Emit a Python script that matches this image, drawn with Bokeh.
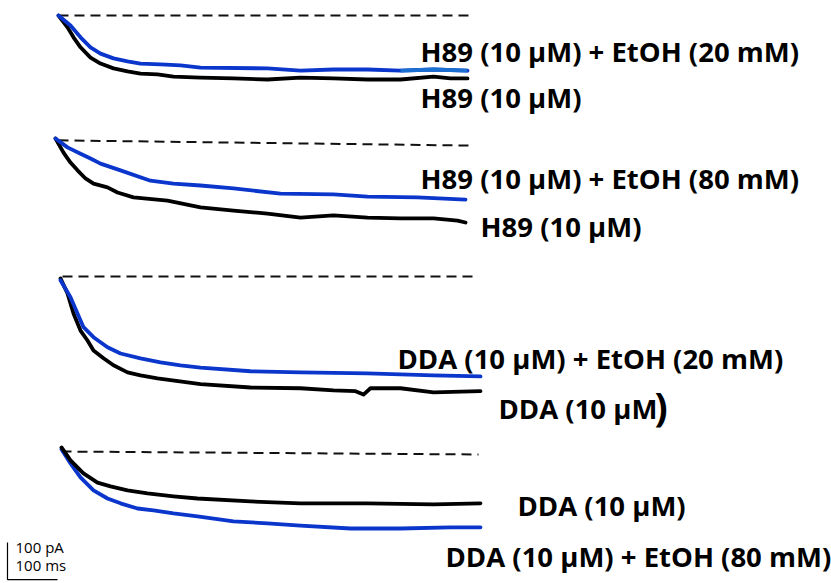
import numpy as np
from bokeh.plotting import figure
from bokeh.models import Range1d
from bokeh.embed import file_html
from bokeh.resources import INLINE
from bokeh.core.properties import value

# ---- Whole-cell currents: time from onset (ms), current (pA) ----
# Panel A: H89 10 uM vs H89 10 uM + EtOH 20 mM
h89_a_t = [0, 18, 30, 44, 64, 84, 110, 138, 164, 198, 230, 284, 350, 418, 484, 550, 618, 684, 750, 784, 818]
h89_a_i = [0, -32, -59, -86, -114, -130, -143, -151, -157, -159, -165, -168, -170, -173, -168, -170, -173, -173, -165, -170, -170]
h89_etoh20_t = [0, 24, 44, 64, 84, 110, 138, 164, 204, 244, 284, 418, 484, 550, 618, 684, 750, 818]
h89_etoh20_i = [0, -27, -59, -86, -103, -116, -124, -130, -132, -135, -141, -143, -149, -146, -146, -149, -146, -149]

# Panel B: H89 10 uM vs H89 10 uM + EtOH 80 mM
h89_b_t = [0, 6, 16, 30, 44, 60, 76, 104, 124, 156, 224, 290, 356, 424, 490, 556, 624, 690, 756, 804, 820]
h89_b_i = [0, -14, -38, -65, -86, -108, -122, -132, -146, -159, -168, -186, -195, -203, -214, -208, -214, -216, -216, -222, -227]
h89_etoh80_t = [0, 24, 50, 70, 90, 130, 190, 236, 290, 356, 450, 556, 624, 724, 820]
h89_etoh80_i = [0, -24, -41, -54, -68, -86, -114, -122, -127, -135, -149, -151, -157, -159, -165]

# Panel C: DDA 10 uM vs DDA 10 uM + EtOH 20 mM
dda_c_t = [0, 14, 26, 40, 54, 66, 86, 106, 134, 160, 194, 280, 380, 480, 546, 590, 606, 620, 680, 746, 840]
dda_c_i = [0, -41, -95, -141, -168, -195, -216, -235, -254, -262, -270, -286, -295, -297, -303, -305, -314, -297, -297, -308, -305]
dda_etoh20_t = [0, 20, 34, 46, 66, 94, 120, 160, 200, 240, 280, 380, 480, 614, 746, 840]
dda_etoh20_i = [-5, -51, -95, -132, -159, -186, -203, -216, -227, -235, -241, -251, -254, -257, -262, -265]

# Panel D: DDA 10 uM vs DDA 10 uM + EtOH 80 mM
dda_d_t = [0, 18, 44, 72, 98, 132, 172, 224, 272, 378, 478, 612, 744, 838]
dda_d_i = [0, -35, -70, -95, -105, -116, -124, -132, -138, -146, -151, -151, -154, -151]
dda_etoh80_t = [0, 18, 38, 64, 92, 118, 152, 184, 224, 272, 344, 412, 478, 578, 678, 778, 838]
dda_etoh80_i = [-5, -43, -81, -116, -138, -151, -165, -170, -178, -186, -200, -205, -211, -219, -219, -216, -216]

# Holding-current reference (start/end of the dashed zero line), per panel
zero_t = [[0, 828], [6, 826], [4, 826], [0, 834]]
zero_i = [[0, 0], [-5, -19], [5, 5], [-11, -19]]

labels = [
    "H89 (10 \u03bcM) + EtOH (20 mM)",
    "H89 (10 \u03bcM)",
    "H89 (10 \u03bcM) + EtOH (80 mM)",
    "H89 (10 \u03bcM)",
    "DDA (10 \u03bcM) + EtOH (20 mM)",
    "DDA (10 \u03bcM",
    "DDA (10 \u03bcM)",
    "DDA (10 \u03bcM) + EtOH (80 mM)",
]

# ---- layout (ms, pA) ----
panel_origin = [(116, -40.5), (110, -373), (120, -751), (122, -1208)]
label_pos = [(840, -138), (840, -261), (840, -482), (960, -611),
             (794, -968), (996, -1103), (1034, -1365), (890, -1503)]

BLUE = "#0a36cc"
BLUE_LIGHT = "#1a6fd0"
BLACK = "#000000"

p = figure(width=831, height=583, output_backend="svg", toolbar_location=None,
           x_range=Range1d(0, 1662), y_range=Range1d(-1575.7, 0),
           min_border=0, outline_line_color=None)
p.axis.visible = False
p.grid.visible = False
p.background_fill_color = "white"
p.border_fill_color = "white"

panels = [
    ((h89_a_t, h89_a_i), (h89_etoh20_t, h89_etoh20_i)),
    ((h89_b_t, h89_b_i), (h89_etoh80_t, h89_etoh80_i)),
    ((dda_c_t, dda_c_i), (dda_etoh20_t, dda_etoh20_i)),
    ((dda_d_t, dda_d_i), (dda_etoh80_t, dda_etoh80_i)),
]

for k, ((ct, ci), (et, ei)) in enumerate(panels):
    ox, oy = panel_origin[k]
    p.line([ox + t for t in zero_t[k]], [oy + v for v in zero_i[k]],
           line_color="#111111", line_width=2, line_dash="10 6")
    ct_a, ci_a = np.asarray(ct) + ox, np.asarray(ci) + oy
    et_a, ei_a = np.asarray(et) + ox, np.asarray(ei) + oy
    order = [(ct_a, ci_a, BLACK), (et_a, ei_a, BLUE)] if k < 3 else \
            [(et_a, ei_a, BLUE), (ct_a, ci_a, BLACK)]
    for xs, ys, col in order:
        p.line(xs, ys, line_color=col, line_width=3.8, line_join="round", line_cap="round")
    if k == 0:
        # tail of the ethanol sweep recorded in a lighter trace colour
        m = np.asarray(et) >= 684
        p.line(et_a[m], ei_a[m], line_color=BLUE_LIGHT, line_width=3.8, line_join="round")

lx = [xy[0] for xy in label_pos]
ly = [xy[1] for xy in label_pos]
p.text(x=lx, y=ly, text=labels, text_font=value("Open Sans"), text_font_style="bold",
       text_font_size="27.5px", text_color="black", text_baseline="alphabetic", text_align="left")
p.text(x=[1308], y=[-1095], text=[")"], text_font=value("Open Sans"), text_font_style="bold",
       text_font_size="39px", text_color="black", text_baseline="alphabetic", text_align="left")

# scale bar: 100 pA by 100 ms
sb_x, sb_y = 14, -1565
p.line([sb_x, sb_x, sb_x + 100], [sb_y + 100, sb_y, sb_y], line_color="black", line_width=1.2)
p.text(x=[30, 30], y=[-1477, -1527], text=["100 pA", "100 ms"], text_font=value("Open Sans"),
       text_font_size="15px", text_color="black", text_baseline="alphabetic", text_align="left")

open("out.html", "w").write(file_html(p, INLINE))
